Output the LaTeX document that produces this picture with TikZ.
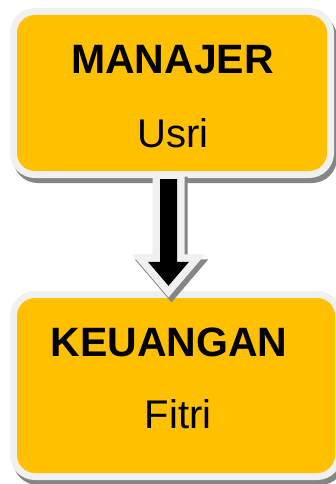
\documentclass[tikz,border=0pt]{standalone}
\usepackage{fontspec}
\setmainfont{Liberation Sans}
\usetikzlibrary{calc}
\definecolor{boxyellow}{HTML}{FFC000}
\definecolor{rimwhite}{HTML}{F0F0F0}
\definecolor{shadegray}{HTML}{858585}
\tikzset{
  unitbox/.style={rectangle, rounded corners=18pt, fill=boxyellow, inner sep=0pt,
    preaction={draw=shadegray, line width=14pt, transform canvas={shift={(3pt,-5pt)}}},
    preaction={draw=rimwhite, line width=14pt}},
  titletext/.style={anchor=base, font=\fontsize{41}{41}\selectfont\bfseries},
  nametext/.style={anchor=base, font=\fontsize{40}{40}\selectfont},
  arrowbody/.style={fill=black, line join=miter},
}
\begin{document}
\begin{tikzpicture}[x=1pt, y=-1pt]
\useasboundingbox (0,0) rectangle (336,484);
\clip (0,0) rectangle (336,484);
\fill[white] (0,0) rectangle (336,484);

% the two units
\node[unitbox, minimum width=310pt, minimum height=156pt] (manajer) at (172,93) {};
\node[unitbox, minimum width=318pt, minimum height=175pt] (keuangan) at (176,385.5) {};

% arrow from MANAJER down to KEUANGAN
\coordinate (arrtop) at ($(manajer.south)+(-3.5,8)$);
\coordinate (arrtip) at ($(keuangan.north)+(-7.5,-12)$);
\def\arrowoutline{
  ($(arrtop)+(-8.5,0)$) -- ($(arrtop)+(8.5,0)$) -- ($(arrtip)+(8.5,-24)$) --
  ($(arrtip)+(20.5,-24)$) -- (arrtip) -- ($(arrtip)+(-20.5,-24)$) --
  ($(arrtip)+(-8.5,-24)$) -- cycle}
\begin{scope}[transform canvas={shift={(3pt,-5pt)}}]
  \draw[draw=shadegray, fill=shadegray, line width=15pt, line join=miter] \arrowoutline;
\end{scope}
\draw[draw=rimwhite, line width=15pt, line join=miter] \arrowoutline;
\fill[arrowbody] \arrowoutline;

% labels
\node[titletext] (mtitle) at (172.5,74) {MANAJER};
\node[nametext] (mname) at (173,147) {Usri};
\node[titletext] (ktitle) at (169,356) {KEUANGAN};
\node[nametext] (kname) at (178,428) {Fitri};
\end{tikzpicture}
\end{document}
